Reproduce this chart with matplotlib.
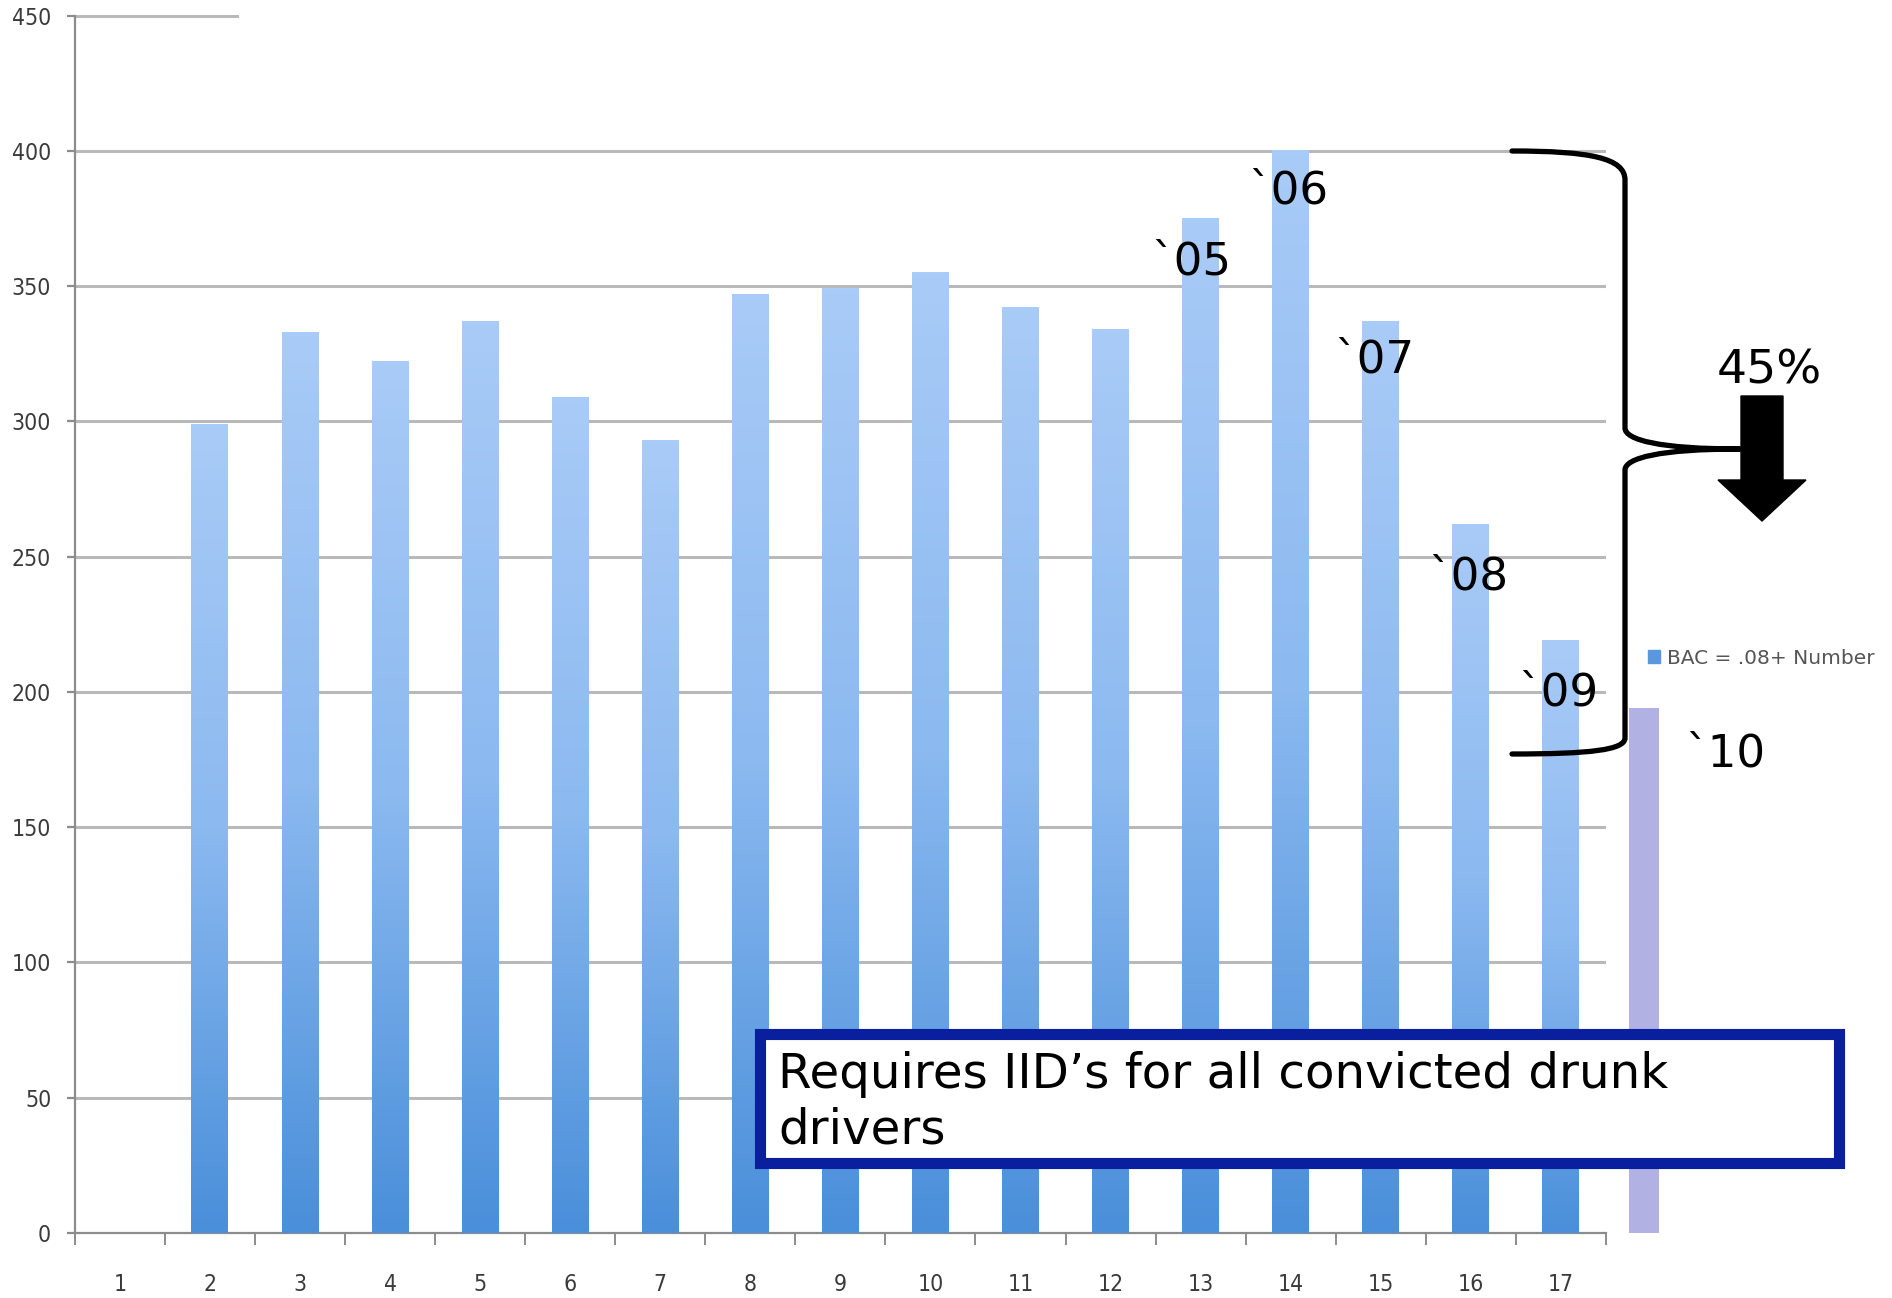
import numpy as np
import matplotlib
matplotlib.use("Agg")
import matplotlib.pyplot as plt
from matplotlib.colors import LinearSegmentedColormap
from matplotlib.patches import Rectangle, Polygon, PathPatch, Patch
from matplotlib.path import Path

# BAC .08+ counts per year index, 2010 drawn separately
categories = list(range(1, 18))
counts = [0, 299, 333, 322, 337, 309, 293, 347, 349, 355, 342, 334, 375, 400, 337, 262, 219]
count_2010 = 194
yticks = [0, 50, 100, 150, 200, 250, 300, 350, 400, 450]

year_labels = ["`05", "`06", "`07", "`08", "`09", "`10"]
year_x = [12.9, 13.97, 14.93, 15.97, 16.97, 18.83]
year_y = [354.5, 380.5, 318, 238, 195, 172.5]

legend_label = "BAC = .08+ Number"
box_lines = ["Requires IID\u2019s for all convicted drunk", "drivers"]
drop_label = "45%"

W, H = 1892, 1298
fig = plt.figure(figsize=(W / 100, H / 100), dpi=100)
ax = fig.add_axes([0.03953, 0.05008, 0.80930, 0.93783])

grey = "#8c8c8c"
tick_font = ["DejaVu Sans"]

# gridlines (the top one only shows a short stub)
for v in yticks[1:-1]:
    ax.axhline(v, color="#b9b9b9", lw=2.2, zorder=1)
ax.axhline(yticks[-1], xmax=0.106, color="#b9b9b9", lw=2.2, zorder=1, clip_on=False)

# bars with a light-top / dark-bottom gradient
cmap = LinearSegmentedColormap.from_list("barfade", ["#4a8fda", "#8bb9f0", "#a9cbf7"])
grad = np.linspace(0, 1, 256).reshape(-1, 1)
bars = ax.bar(categories, counts, width=0.41, color="none", zorder=3)
for b in bars:
    h = b.get_height()
    if h <= 0:
        continue
    x0 = b.get_x()
    ax.imshow(grad, extent=[x0, x0 + b.get_width(), 0, h], origin="lower",
              cmap=cmap, aspect="auto", zorder=3, interpolation="bilinear")

ax.bar(17.92, count_2010, width=0.34, color="#b1b1e4", zorder=3, clip_on=False)

ax.set_xlim(0.5, 17.5)
ax.set_ylim(0, 450)

for s in ["top", "right"]:
    ax.spines[s].set_visible(False)
for s in ["left", "bottom"]:
    ax.spines[s].set_color(grey)
    ax.spines[s].set_linewidth(1.6)

ax.set_yticks(yticks)
ax.set_yticklabels([str(v) for v in yticks], family=tick_font, fontsize=16.5,
                   fontstretch="condensed", color="#3a3a3a")
ax.tick_params(axis="y", length=6, width=1.6, color=grey, pad=11)

ax.set_xticks(np.arange(0.5, 18, 1))
ax.set_xticklabels([])
ax.set_xticks(categories, minor=True)
ax.set_xticklabels([str(c) for c in categories], minor=True, family=tick_font,
                   fontsize=16.5, fontstretch="condensed", color="#3a3a3a")
ax.tick_params(axis="x", which="major", length=8.6, width=1.4, color=grey)
ax.tick_params(axis="x", which="minor", length=0, pad=29)

for lab, x, y in zip(year_labels, year_x, year_y):
    ax.text(x, y, lab, ha="center", va="baseline", fontsize=32.5,
            family="DejaVu Sans", color="black", zorder=6)

ax.legend(handles=[Patch(color="#5a97dc")], labels=[legend_label],
          loc="center left", bbox_to_anchor=(1648 / W, 1 - 658 / H),
          bbox_transform=fig.transFigure, frameon=False, fontsize=14.5,
          handlelength=0.6, handleheight=0.6, handletextpad=0.35,
          borderpad=0, borderaxespad=0, labelcolor="#555555")

# annotation layer in pixel coordinates
deco = fig.add_axes([0, 0, 1, 1])
deco.set_xlim(0, W)
deco.set_ylim(H, 0)
deco.axis("off")
deco.patch.set_alpha(0)

brace = Path(
    [(1512, 151), (1590, 151), (1625, 158), (1625, 180),
     (1625, 428),
     (1625, 440), (1660, 449), (1740, 449),
     (1660, 449), (1625, 458), (1625, 470),
     (1625, 738),
     (1625, 750), (1590, 754), (1512, 754)],
    [Path.MOVETO, Path.CURVE4, Path.CURVE4, Path.CURVE4,
     Path.LINETO,
     Path.CURVE4, Path.CURVE4, Path.CURVE4,
     Path.CURVE4, Path.CURVE4, Path.CURVE4,
     Path.LINETO,
     Path.CURVE4, Path.CURVE4, Path.CURVE4])
deco.add_patch(PathPatch(brace, facecolor="none", edgecolor="black", lw=3.8,
                         capstyle="round", joinstyle="round"))

arrow = Polygon([(1741, 396), (1783, 396), (1783, 480), (1806, 480),
                 (1762, 521), (1718, 480), (1741, 480)],
                closed=True, facecolor="black", edgecolor="black", lw=1)
deco.add_patch(arrow)
deco.text(1769, 384, drop_label, ha="center", va="baseline", fontsize=34,
          family="DejaVu Sans", color="black")

deco.add_patch(Rectangle((759.5, 1033.5), 1079, 129, facecolor="white",
                         edgecolor="#0a1f9e", lw=8))
for i, line in enumerate(box_lines):
    deco.text(778, 1088 + 55 * i, line, ha="left", va="baseline", fontsize=34.8,
              family="DejaVu Sans", color="black")

fig.savefig("out.png", dpi=100)
